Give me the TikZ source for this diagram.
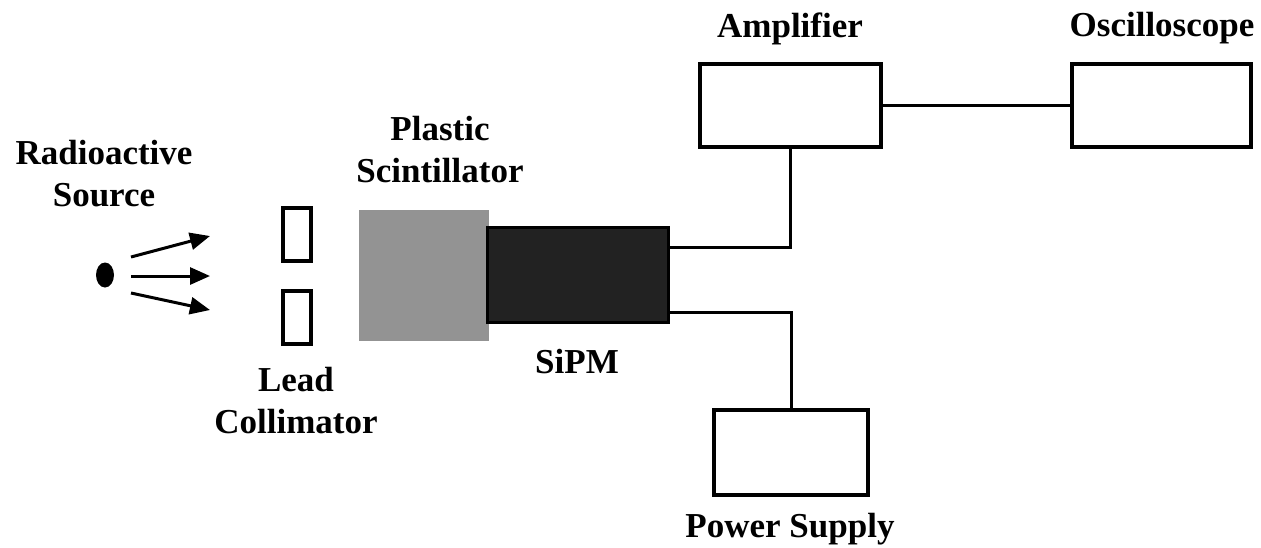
\documentclass[tikz,border=0pt]{standalone}
\usepackage{fontspec}
\setmainfont{Liberation Serif}
\usepackage{tikz}
\usetikzlibrary{positioning,arrows.meta,shapes.geometric}
\definecolor{scintgray}{HTML}{939393}
\definecolor{sipmdark}{HTML}{222222}

\begin{document}
\begin{tikzpicture}[
    x=0.5pt, y=-0.5pt,
    font=\bfseries\fontsize{17.5}{21}\selectfont,
    lbl/.style={align=center, anchor=base, inner sep=0pt},
    instr/.style={rectangle, draw, line width=2pt, inner sep=0pt, outer sep=0pt},
    colli/.style={instr, minimum width=14pt, minimum height=26.5pt},
    ray/.style={-{Triangle[length=10pt, width=8.5pt]}, line width=1.5pt},
    wire/.style={line width=1.5pt}
]
\useasboundingbox (0,0) rectangle (1261,547);

% --- Source and emitted rays ---
\node[ellipse, fill, inner sep=0pt, minimum width=9pt, minimum height=12.5pt] (src) at (105,275) {};
\coordinate (rayTs) at (131,257);
\coordinate (rayMs) at (131,276);
\coordinate (rayBs) at (131,293);
\coordinate (rayTe) at (210,236);
\coordinate (rayMe) at (210,276);
\coordinate (rayBe) at (210,310);

% --- Collimator, scintillator and SiPM ---
\node[colli] (colliT) at (297,234.5) {};
\node[colli] (colliB) at (297,317) {};
\node[rectangle, fill=scintgray, inner sep=0pt, minimum width=65pt, minimum height=65.5pt] (scint) at (424,275.5) {};
\node[rectangle, draw, fill=sipmdark, line width=1.5pt, inner sep=0pt, minimum width=90.5pt, minimum height=47.5pt] (sipm) at (578,275) {};

% --- Read-out instruments ---
\node[instr, minimum width=90.5pt, minimum height=41.5pt] (amp) at (790.5,105.5) {};
\node[instr, minimum width=89.5pt, minimum height=41.5pt] (osc) at (1161.5,105.5) {};
\node[instr, minimum width=77pt, minimum height=42.5pt] (psu) at (791,452.5) {};

% --- Labels (base = last line) ---
\node[lbl] (srclbl) at (104,206) {Radioactive\\Source};
\node[lbl] (scintlbl) at (440,182) {Plastic\\Scintillator};
\node[lbl] (collilbl) at (296,433) {Lead\\Collimator};
\node[lbl] (sipmlbl) at (577,373) {SiPM};
\node[lbl] (amplbl) at (790,37) {Amplifier};
\node[lbl] (osclbl) at (1162,36) {Oscilloscope};
\node[lbl] (psulbl) at (790,537) {Power Supply};

% --- Rays and wiring ---
\draw[ray] (rayTs) -- (rayTe);
\draw[ray] (rayMs) -- (rayMe);
\draw[ray] (rayBs) -- (rayBe);
\draw[wire] ([yshift=14pt]sipm.east) -| (amp.south);
\draw[wire] ([yshift=-18.75pt]sipm.east) -| (psu.north);
\draw[wire] (amp) -- (osc);

\end{tikzpicture}
\end{document}
